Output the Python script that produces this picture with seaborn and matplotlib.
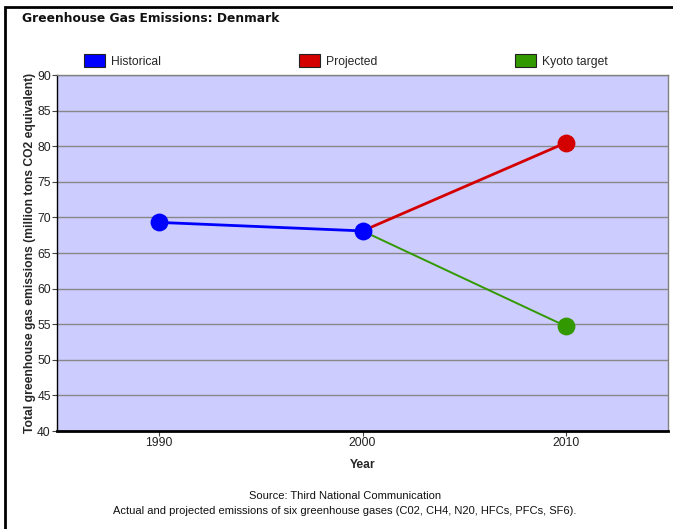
import numpy as np
import pandas as pd
import matplotlib
matplotlib.use('Agg')
import matplotlib.pyplot as plt
from matplotlib.patches import Patch, Rectangle
import seaborn as sns

# values (million tons CO2 equivalent)
hist_years      = [1990, 2000]
hist_values     = [69.3, 68.1]
proj_years      = [2000, 2010]
proj_values     = [68.1, 80.5]
kyoto_years     = [2000, 2010]
kyoto_values    = [68.1, 54.7]
series_names    = ['Historical', 'Projected', 'Kyoto target']
series_colors   = ['#0000FF', '#D40000', '#339900']
x_ticks         = [1990, 2000, 2010]
y_ticks         = list(range(40, 95, 5))

sns.set_style('white')
plt.rcParams['font.family'] = ['Liberation Sans', 'DejaVu Sans']

fig = plt.figure(figsize=(6.73, 5.29), dpi=100)
ax  = fig.add_axes([57/673, 1 - 431/529, 611/673, 356/529])
ax.set_facecolor('#CCCCFF')

hist_df  = pd.DataFrame({'year': hist_years,  'value': hist_values})
proj_df  = pd.DataFrame({'year': proj_years,  'value': proj_values})
kyoto_df = pd.DataFrame({'year': kyoto_years, 'value': kyoto_values})

# lines
sns.lineplot(data=proj_df,  x='year', y='value', color=series_colors[1], linewidth=2.0, ax=ax, zorder=3)
sns.lineplot(data=kyoto_df, x='year', y='value', color=series_colors[2], linewidth=1.4, ax=ax, zorder=3)
sns.lineplot(data=hist_df,  x='year', y='value', color=series_colors[0], linewidth=2.0, ax=ax, zorder=4)

# end markers
sns.scatterplot(data=proj_df.iloc[1:],  x='year', y='value', color=series_colors[1], s=165, linewidth=0, ax=ax, zorder=5)
sns.scatterplot(data=kyoto_df.iloc[1:], x='year', y='value', color=series_colors[2], s=165, linewidth=0, ax=ax, zorder=5)
sns.scatterplot(data=hist_df,           x='year', y='value', color=series_colors[0], s=165, linewidth=0, ax=ax, zorder=6)

ax.set_xlim(1985, 2015)
ax.set_ylim(40, 90)
ax.set_xticks(x_ticks)
ax.set_yticks(y_ticks)
ax.yaxis.grid(True, color='#888888', linewidth=1.0)
ax.set_axisbelow(True)
ax.tick_params(axis='both', which='both', direction='out', length=3.5, width=0.8,
               color='#444444', labelsize=8.7, labelcolor='#222222', pad=1.0,
               left=True, bottom=True)

for side in ['top', 'right']:
    ax.spines[side].set_color('#808080')
    ax.spines[side].set_linewidth(1.0)
ax.spines['left'].set_color('#000000')
ax.spines['left'].set_linewidth(1.0)
ax.spines['bottom'].set_color('#000000')
ax.spines['bottom'].set_linewidth(2.0)

ax.set_xlabel('Year', fontsize=8.7, fontweight='bold', labelpad=7)
ax.set_ylabel('Total greenhouse gas emissions (million tons CO2 equivalent)',
              fontsize=8.7, fontweight='bold', labelpad=0.5)

# legend
handles = [Patch(facecolor=c, edgecolor='#222222', linewidth=0.8, label=n)
           for n, c in zip(series_names, series_colors)]
fig.legend(handles=handles, loc='center left', bbox_to_anchor=(84/673, 1 - 61/529),
           ncol=3, frameon=False, fontsize=8.7, borderpad=0, borderaxespad=0,
           handlelength=1.74, handleheight=1.16, handletextpad=0.5, columnspacing=11.4)

# title and footer
fig.text(22/673, 1 - 18/529, 'Greenhouse Gas Emissions: Denmark', fontsize=8.8,
         fontweight='bold', family=['DejaVu Sans'], va='center', ha='left', color='#111111')
fig.text(345/673, 1 - 496/529, 'Source: Third National Communication',
         fontsize=8, ha='center', va='center', color='#111111')
fig.text(345/673, 1 - 511/529,
         'Actual and projected emissions of six greenhouse gases (C02, CH4, N20, HFCs, PFCs, SF6).',
         fontsize=8, ha='center', va='center', color='#111111')

# outer frame (left and top edges visible)
fig.patches.append(Rectangle((5/673, -0.1), 2.0, 1.1 - 7/529, transform=fig.transFigure,
                             fill=False, edgecolor='#000000', linewidth=2.0))

fig.savefig('out.png', dpi=100)
